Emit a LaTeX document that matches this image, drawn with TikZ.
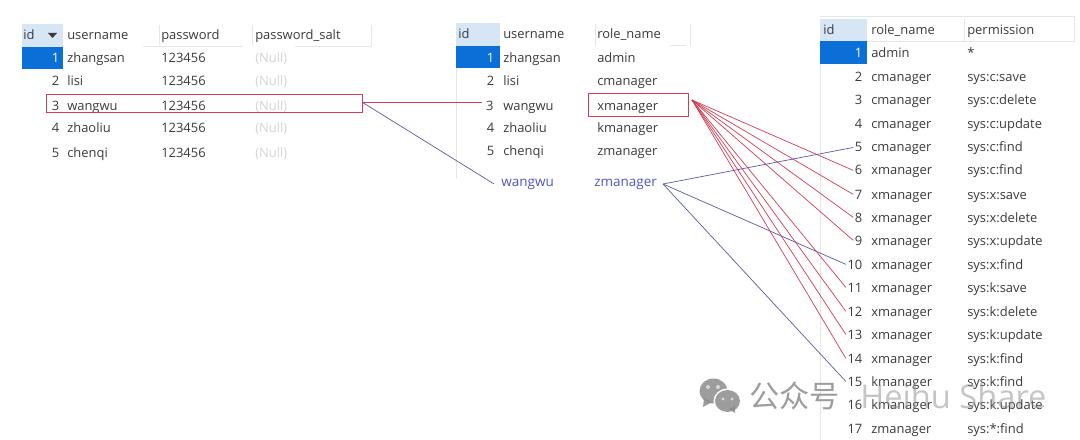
\documentclass[tikz,border=0pt]{standalone}
\usepackage{fontspec}
\usepackage{xcolor}
\setmainfont{Open Sans}
\newfontfamily\cjkfont{Noto Sans CJK SC}
\definecolor{headblue}{HTML}{D6E6F4}
\definecolor{selblue}{HTML}{0A6FD6}
\definecolor{celltext}{HTML}{3A3A3A}
\definecolor{nulltext}{HTML}{D4D4D4}
\definecolor{markred}{HTML}{D23C55}
\definecolor{linkblue}{HTML}{5A5AA8}
\definecolor{addblue}{HTML}{4F55C4}
\definecolor{sepgray}{HTML}{E6E6E6}
\definecolor{markgray}{HTML}{8C8C8C}

\begin{document}
\begin{tikzpicture}[x=0.025cm, y=-0.025cm, every node/.style={font=\fontsize{9.2}{11}\selectfont, text=celltext, inner sep=0pt},
    cell/.style={anchor=base west},
    num/.style={anchor=base east, inner xsep=1pt},
    nullcell/.style={anchor=base west, text=nulltext},
    added/.style={anchor=base west, text=addblue, inner xsep=5pt, font=\fontsize{9.6}{11}\selectfont},
    markbox/.style={draw=markred, line width=0.7pt},
    redlink/.style={draw=markred, line width=0.5pt},
    bluelink/.style={draw=linkblue, line width=0.5pt},
    sep/.style={draw=sepgray, line width=0.6pt},
    bubble/.style={fill=markgray, fill opacity=0.85},
    eye/.style={fill=white, fill opacity=0.6}]
  \useasboundingbox (0,0) rectangle (1080,440);
  % header and selected cells
  \fill[headblue] (22,24) rectangle (63,47);
  \fill[selblue] (22,47) rectangle (63,69);
  \fill[headblue] (456,23) rectangle (500,46);
  \fill[selblue] (456,46) rectangle (500,68);
  \fill[headblue] (820,19) rectangle (867,41);
  \fill[selblue] (820,41) rectangle (867,64);
  \fill[celltext] (48,33) -- (57,33) -- (52.5,38) -- cycle;
  % separators
  \draw[sep] (159,25) -- (159,45);
  \draw[sep] (252,25) -- (252,45);
  \draw[sep] (371,25) -- (371,46);
  \draw[sep] (143,46) -- (243,46);
  \draw[sep] (295,46) -- (371,46);
  \draw[sep] (595,24) -- (595,46);
  \draw[sep] (690,24) -- (690,46);
  \draw[sep] (670,45) -- (686,45);
  \draw[sep] (456,68) -- (456,178);
  \draw[sep] (820,16) -- (1075,16);
  \draw[sep] (867,41) -- (1075,41);
  \draw[sep] (964,19) -- (964,41);
  \draw[sep] (1074,16) -- (1074,41);
  \draw[sep] (820,64) -- (820,440);

  % users table
  \node[cell] (uhid) at (23,39.5) {id};
  \node[cell] (uhname) at (67,39.5) {username};
  \node[cell] (uhpass) at (161,39.5) {password};
  \node[cell] (uhsalt) at (255,39.5) {password\_salt};
  \node[num, text=white] (uid1) at (61,63) {1};
  \node[cell] (uname1) at (67,63) {zhangsan};
  \node[cell] (upass1) at (161,63) {123456};
  \node[nullcell] (usalt1) at (255,63) {(Null)};
  \node[num] (uid2) at (61,86) {2};
  \node[cell] (uname2) at (67,86) {lisi};
  \node[cell] (upass2) at (161,86) {123456};
  \node[nullcell] (usalt2) at (255,86) {(Null)};
  \node[num] (uid3) at (61,110) {3};
  \node[cell] (uname3) at (67,110) {wangwu};
  \node[cell] (upass3) at (161,110) {123456};
  \node[nullcell] (usalt3) at (255,110) {(Null)};
  \node[num] (uid4) at (61,133) {4};
  \node[cell] (uname4) at (67,133) {zhaoliu};
  \node[cell] (upass4) at (161,133) {123456};
  \node[nullcell] (usalt4) at (255,133) {(Null)};
  \node[num] (uid5) at (61,157) {5};
  \node[cell] (uname5) at (67,157) {chenqi};
  \node[cell] (upass5) at (161,157) {123456};
  \node[nullcell] (usalt5) at (255,157) {(Null)};
  \node[markbox, minimum width=7.875cm, minimum height=0.45cm] (userbox) at (204.5,103) {};

  % user role table
  \node[cell] (rhid) at (458,39) {id};
  \node[cell] (rhname) at (503,39) {username};
  \node[cell] (rhrole) at (597,39) {role\_name};
  \node[num, text=white] (rid1) at (496,63) {1};
  \node[cell] (rname1) at (503,63) {zhangsan};
  \node[cell] (rrole1) at (597,63) {admin};
  \node[num] (rid2) at (496,86) {2};
  \node[cell] (rname2) at (503,86) {lisi};
  \node[cell] (rrole2) at (597,86) {cmanager};
  \node[num, inner xsep=3pt] (rid3) at (498,110) {3};
  \node[cell] (rname3) at (503,110) {wangwu};
  \node[cell] (rrole3) at (597,110) {xmanager};
  \node[num] (rid4) at (496,133) {4};
  \node[cell] (rname4) at (503,133) {zhaoliu};
  \node[cell] (rrole4) at (597,133) {kmanager};
  \node[num] (rid5) at (496,156) {5};
  \node[cell] (rname5) at (503,156) {chenqi};
  \node[cell] (rrole5) at (597,156) {zmanager};
  \node[added] (rname6) at (494,186) {wangwu};
  \node[added] (rrole6) at (587,186) {zmanager};
  \node[markbox, minimum width=2.5cm, minimum height=0.575cm] (rolebox) at (638,104.5) {};
  \coordinate (ufan) at (363,102.7);
  \coordinate (rlink) at (482,102.7);
  \coordinate (xfan) at (692,100);
  \coordinate (zfan) at (663,184);

  % role permission table
  \node[cell] (phid) at (823,35) {id};
  \node[cell] (phrole) at (871,35) {role\_name};
  \node[cell] (phperm) at (967,35) {permission};
  \node[num, text=white] (pid1) at (864,58) {1};
  \node[cell] (prole1) at (871,58) {admin};
  \node[cell] (pperm1) at (967,58) {*};
  \node[num] (pid2) at (864,82) {2};
  \node[cell] (prole2) at (871,82) {cmanager};
  \node[cell] (pperm2) at (967,82) {sys:c:save};
  \node[num] (pid3) at (864,105) {3};
  \node[cell] (prole3) at (871,105) {cmanager};
  \node[cell] (pperm3) at (967,105) {sys:c:delete};
  \node[num] (pid4) at (864,129) {4};
  \node[cell] (prole4) at (871,129) {cmanager};
  \node[cell] (pperm4) at (967,129) {sys:c:update};
  \node[num] (pid5) at (864,152) {5};
  \node[cell] (prole5) at (871,152) {cmanager};
  \node[cell] (pperm5) at (967,152) {sys:c:find};
  \node[num] (pid6) at (864,175) {6};
  \node[cell] (prole6) at (871,175) {xmanager};
  \node[cell] (pperm6) at (967,175) {sys:c:find};
  \node[num] (pid7) at (864,199) {7};
  \node[cell] (prole7) at (871,199) {xmanager};
  \node[cell] (pperm7) at (967,199) {sys:x:save};
  \node[num] (pid8) at (864,222) {8};
  \node[cell] (prole8) at (871,222) {xmanager};
  \node[cell] (pperm8) at (967,222) {sys:x:delete};
  \node[num] (pid9) at (864,245) {9};
  \node[cell] (prole9) at (871,245) {xmanager};
  \node[cell] (pperm9) at (967,245) {sys:x:update};
  \node[num] (pid10) at (864,269) {10};
  \node[cell] (prole10) at (871,269) {xmanager};
  \node[cell] (pperm10) at (967,269) {sys:x:find};
  \node[num] (pid11) at (864,292) {11};
  \node[cell] (prole11) at (871,292) {xmanager};
  \node[cell] (pperm11) at (967,292) {sys:k:save};
  \node[num] (pid12) at (864,316) {12};
  \node[cell] (prole12) at (871,316) {xmanager};
  \node[cell] (pperm12) at (967,316) {sys:k:delete};
  \node[num] (pid13) at (864,339) {13};
  \node[cell] (prole13) at (871,339) {xmanager};
  \node[cell] (pperm13) at (967,339) {sys:k:update};
  \node[num] (pid14) at (864,363) {14};
  \node[cell] (prole14) at (871,363) {xmanager};
  \node[cell] (pperm14) at (967,363) {sys:k:find};
  \node[num] (pid15) at (864,386) {15};
  \node[cell] (prole15) at (871,386) {kmanager};
  \node[cell] (pperm15) at (967,386) {sys:k:find};
  \node[num] (pid16) at (864,409) {16};
  \node[cell] (prole16) at (871,409) {kmanager};
  \node[cell] (pperm16) at (967,409) {sys:k:update};
  \node[num] (pid17) at (864,433) {17};
  \node[cell] (prole17) at (871,433) {zmanager};
  \node[cell] (pperm17) at (967,433) {sys:*:find};

  % links
  \draw[redlink] (ufan) -- (rlink);
  \draw[bluelink] (ufan) -- (rname6.west);
  \draw[redlink] (xfan) -- (pid6.west);
  \draw[redlink] (xfan) -- (pid7.west);
  \draw[redlink] (xfan) -- (pid8.west);
  \draw[redlink] (xfan) -- (pid9.west);
  \draw[redlink] (xfan) -- (pid11.west);
  \draw[redlink] (xfan) -- (pid12.west);
  \draw[redlink] (xfan) -- (pid13.west);
  \draw[redlink] (xfan) -- (pid14.west);
  \draw[bluelink] (zfan) -- (pid5.west);
  \draw[bluelink] (zfan) -- (pid10.west);
  \draw[bluelink] (zfan) -- (pid15.west);

  % watermark
  \fill[bubble] (713.5,391) ellipse (14 and 12.5);
  \fill[bubble] (703,407) -- (704,398) -- (712,402) -- cycle;
  \fill[white] (727.5,401) ellipse (14 and 12.5);
  \fill[bubble] (727.5,401) ellipse (12.5 and 11);
  \fill[bubble] (735,413) -- (729,409) -- (735,406) -- cycle;
  \fill[eye] (708,387) circle (2);
  \fill[eye] (718,387) circle (2);
  \fill[eye] (723,399) circle (1.7);
  \fill[eye] (732,399) circle (1.7);
  \node[font=\cjkfont\fontsize{21.5}{24}\selectfont, text=markgray, text opacity=0.85, anchor=base west] (markcn) at (749,407) {公众号};
  \node[font=\fontsize{23.2}{26}\selectfont, text=markgray, text opacity=0.5, anchor=base west] (markname) at (860,408) {Heihu Share};
\end{tikzpicture}
\end{document}
